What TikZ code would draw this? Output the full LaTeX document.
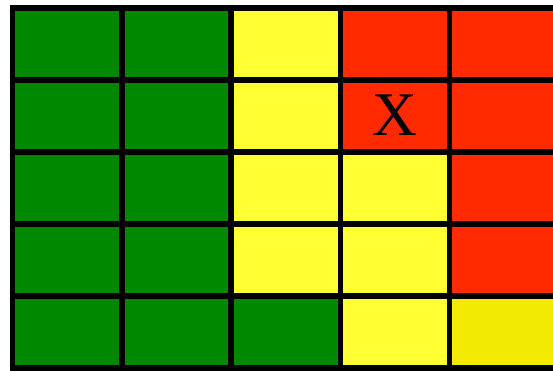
\documentclass[tikz,border=0pt]{standalone}
\usepackage{fontspec}
\newfontfamily\xfont{Liberation Serif}
\definecolor{cg}{RGB}{0,136,0}
\definecolor{cy}{RGB}{255,255,51}
\definecolor{cr}{RGB}{255,42,0}
\definecolor{cy2}{RGB}{242,234,0}
\begin{document}
\begin{tikzpicture}[x=1pt,y=-1pt,
  cell/.style={draw=black,line width=5.5pt,minimum width=109.25pt,minimum height=72pt,inner sep=0pt,outer sep=0pt,anchor=north west}]
\useasboundingbox (0,0) rectangle (553,370);
\foreach \r/\a/\b/\cc/\d/\e in {1/cg/cg/cy/cr/cr,2/cg/cg/cy/cr/cr,3/cg/cg/cy/cy/cr,4/cg/cg/cy/cy/cr,5/cg/cg/cg/cy/cy2}{
  \node[cell,fill=\a] (c\r-1) at ({12.5+0*109.25},{8+(\r-1)*72}) {};
  \node[cell,fill=\b] (c\r-2) at ({12.5+1*109.25},{8+(\r-1)*72}) {};
  \node[cell,fill=\cc] (c\r-3) at ({12.5+2*109.25},{8+(\r-1)*72}) {};
  \node[cell,fill=\d] (c\r-4) at ({12.5+3*109.25},{8+(\r-1)*72}) {};
  \node[cell,fill=\e] (c\r-5) at ({12.5+4*109.25},{8+(\r-1)*72}) {};
}
\node[font=\xfont\fontsize{62}{62}\selectfont,inner sep=0pt] (x) at ([yshift=1pt]c2-4.center) {X};
\end{tikzpicture}
\end{document}
